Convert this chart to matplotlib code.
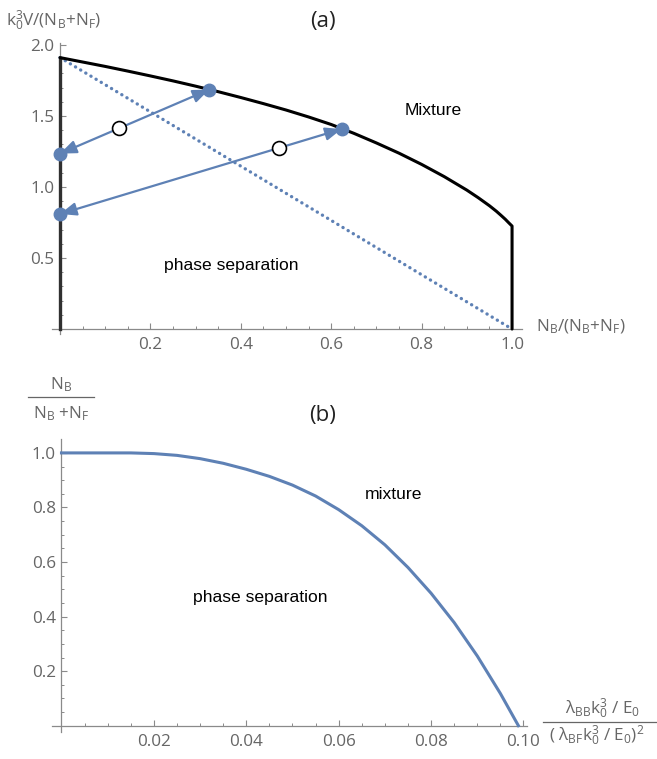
import matplotlib
matplotlib.use('Agg')
import matplotlib.pyplot as plt
from matplotlib.ticker import FixedLocator
from matplotlib.lines import Line2D
import numpy as np

# ---------------- data ----------------
# panel (a): phase boundary (upper curve)
bound_x = [0.0, 0.05, 0.1, 0.15, 0.2, 0.25, 0.3, 0.35, 0.4, 0.45, 0.5, 0.55, 0.6,
           0.65, 0.7, 0.75, 0.8, 0.85, 0.9, 0.925, 0.95, 0.965, 0.975, 0.985, 0.993, 1.0]
bound_y = [1.911, 1.880, 1.849, 1.816, 1.782, 1.747, 1.710, 1.671, 1.630, 1.587, 1.542,
           1.493, 1.440, 1.378, 1.310, 1.238, 1.159, 1.073, 0.978, 0.925, 0.868, 0.830,
           0.802, 0.773, 0.747, 0.725]
# dotted straight line
dot_x = [0.0, 1.0]
dot_y = [1.911, 0.0]
# tie lines (arrows) : left end on x=0, right end on the boundary
tie_left_x = [0.0, 0.0]
tie_left_y = [1.235, 0.81]
tie_right_x = [0.33, 0.623]
tie_right_y = [1.686, 1.408]
# open circles (mixture composition)
mid_x = [0.13, 0.485]
mid_y = [1.413, 1.274]

# panel (b)
b_x = [0.0, 0.01, 0.015, 0.02, 0.025, 0.03, 0.035, 0.04, 0.045, 0.05, 0.055, 0.06,
       0.065, 0.07, 0.075, 0.08, 0.085, 0.09, 0.095, 0.0989]
b_y = [1.0, 1.0, 1.0, 0.9975, 0.991, 0.979, 0.962, 0.940, 0.914, 0.882, 0.842, 0.792,
       0.733, 0.663, 0.580, 0.4855, 0.378, 0.2555, 0.118, 0.0]

a_xticks = [0.2, 0.4, 0.6, 0.8, 1.0]
a_xticklabels = ['0.2', '0.4', '0.6', '0.8', '1.0']
a_yticks = [0.5, 1.0, 1.5, 2.0]
a_yticklabels = ['0.5', '1.0', '1.5', '2.0']
b_xticks = [0.02, 0.04, 0.06, 0.08, 0.10]
b_xticklabels = ['0.02', '0.04', '0.06', '0.08', '0.10']
b_yticks = [0.2, 0.4, 0.6, 0.8, 1.0]
b_yticklabels = ['0.2', '0.4', '0.6', '0.8', '1.0']

# ---------------- style ----------------
plt.rcParams['font.family'] = ['Open Sans', 'DejaVu Sans']
plt.rcParams['mathtext.fontset'] = 'custom'
plt.rcParams['mathtext.rm'] = 'Open Sans'
plt.rcParams['mathtext.it'] = 'Open Sans:italic'
plt.rcParams['mathtext.default'] = 'regular'

BLUE = '#5E81B5'
AXC = '#8a8a8a'
LBLC = '#666666'
W, H = 657, 759
fig = plt.figure(figsize=(W / 100, H / 100), dpi=100)


def fx(px):
    return px / W


def fy(py):
    return 1 - py / H


def style_axes(ax):
    for s in ['top', 'right']:
        ax.spines[s].set_visible(False)
    ax.spines['left'].set_position(('data', 0))
    ax.spines['bottom'].set_position(('data', 0))
    for s in ['left', 'bottom']:
        ax.spines[s].set_color(AXC)
        ax.spines[s].set_linewidth(0.9)
    ax.tick_params(which='major', direction='in', length=4, width=0.8, color=AXC,
                   labelsize=12.3, labelcolor=LBLC)
    ax.tick_params(which='minor', direction='in', length=2.5, width=0.7, color=AXC)
    ax.tick_params(axis='x', pad=6)
    ax.tick_params(axis='y', pad=4)
    ax.patch.set_alpha(0)


# ---------------- panel (a) ----------------
axa = fig.add_axes([fx(51.9), fy(334), (522 - 51.9) / W, (334 - 42.7) / H])
axa.set_xlim(-0.018, 1.022)
axa.set_ylim(-0.035, 2.016)
style_axes(axa)
axa.xaxis.set_major_locator(FixedLocator(a_xticks))
axa.set_xticklabels(a_xticklabels)
axa.xaxis.set_minor_locator(FixedLocator(np.arange(0.05, 1.001, 0.05)))
axa.yaxis.set_major_locator(FixedLocator(a_yticks))
axa.set_yticklabels(a_yticklabels)
axa.yaxis.set_minor_locator(FixedLocator(np.arange(0.1, 2.001, 0.1)))

axa.plot(dot_x, dot_y, color=BLUE, lw=2.4, linestyle=(0, (0.05, 1.75)),
         dash_capstyle='round', zorder=2)
axa.plot([0.0, 0.0], [0.0, bound_y[0]], color='#303030', lw=2.4, zorder=3)
axa.plot(bound_x + [1.0], bound_y + [0.0], color='black', lw=2.2,
         solid_joinstyle='round', solid_capstyle='round', zorder=3)
for lx, ly, rx, ry in zip(tie_left_x, tie_left_y, tie_right_x, tie_right_y):
    axa.annotate('', xy=(rx, ry), xytext=(lx, ly),
                 arrowprops=dict(arrowstyle='<|-|>,head_length=0.7,head_width=0.28',
                                 color=BLUE, lw=1.6, shrinkA=0, shrinkB=0,
                                 mutation_scale=14), zorder=4)
axa.plot(tie_left_x + tie_right_x, tie_left_y + tie_right_y, 'o', ms=9, color=BLUE,
         zorder=5, clip_on=False)
axa.plot(mid_x, mid_y, 'o', ms=10, mfc='white', mec='black', mew=1.2, zorder=6)

axa.text(0.826, 1.542, 'Mixture', family='Liberation Sans', fontsize=12.6,
         ha='center', va='center', color='black')
axa.text(0.379, 0.444, 'phase separation', family='Liberation Sans', fontsize=12.6,
         ha='center', va='center', color='black')

fig.text(fx(323), fy(22), '(a)', fontsize=16, ha='center', va='center', color='#222222')
fig.text(fx(6), fy(21), 'k$_0^3$V/(N$_B$+N$_F$)', fontsize=12.3, ha='left',
         va='center', color=LBLC)
fig.text(fx(536), fy(327), 'N$_B$/(N$_B$+N$_F$)', fontsize=12.3, ha='left',
         va='center', color=LBLC)

# ---------------- panel (b) ----------------
axb = fig.add_axes([fx(51.7), fy(731.7), (527 - 51.7) / W, (731.7 - 439) / H])
axb.set_xlim(-0.00212, 0.10076)
axb.set_ylim(-0.022, 1.051)
style_axes(axb)
axb.xaxis.set_major_locator(FixedLocator(b_xticks))
axb.set_xticklabels(b_xticklabels)
axb.xaxis.set_minor_locator(FixedLocator(np.arange(0.005, 0.1001, 0.005)))
axb.yaxis.set_major_locator(FixedLocator(b_yticks))
axb.set_yticklabels(b_yticklabels)
axb.yaxis.set_minor_locator(FixedLocator(np.arange(0.05, 1.0001, 0.05)))

axb.plot(b_x, b_y, color=BLUE, lw=2.2, zorder=3, clip_on=False,
         solid_joinstyle='round')
axb.text(0.04297, 0.471, 'phase separation', family='Liberation Sans', fontsize=12.6,
         ha='center', va='center', color='black')
axb.text(0.0718, 0.846, 'mixture', family='Liberation Sans', fontsize=12.6,
         ha='center', va='center', color='black')

fig.text(fx(323), fy(416), '(b)', fontsize=16, ha='center', va='center', color='#222222')

# y label of (b) as a fraction
fig.text(fx(61), fy(385), 'N$_B$', fontsize=12.3, ha='center', va='center', color=LBLC)
fig.add_artist(Line2D([fx(28), fx(94)], [fy(397.3), fy(397.3)], color=LBLC, lw=0.9))
fig.text(fx(61), fy(414), 'N$_B$ +N$_F$', fontsize=12.3, ha='center', va='center',
         color=LBLC)

# x label of (b) as a fraction
fig.text(fx(602), fy(709), r'$\lambda_{BB}$k$_0^3$ / E$_0$', fontsize=12.3,
         ha='center', va='center', color=LBLC)
fig.add_artist(Line2D([fx(543), fx(656)], [fy(722.3), fy(722.3)], color=LBLC, lw=0.9))
fig.text(fx(597), fy(736), r'( $\lambda_{BF}$k$_0^3$ / E$_0$)$^2$', fontsize=12.3,
         ha='center', va='center', color=LBLC)

fig.savefig('out.png', dpi=100)
